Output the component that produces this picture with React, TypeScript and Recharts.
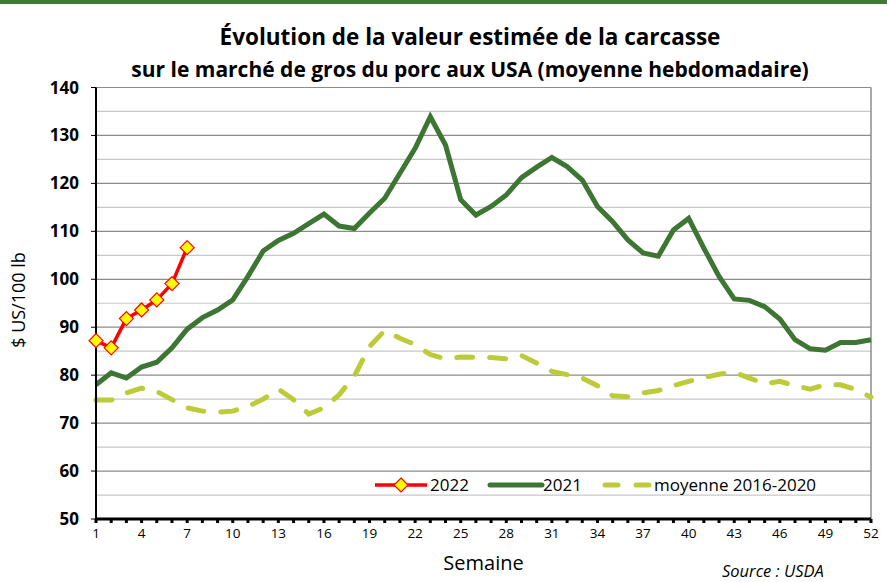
import { LineChart, Line, XAxis, YAxis, CartesianGrid, ReferenceLine } from 'recharts'

const weeks = Array.from({ length: 52 }, (_, i) => i + 1)

const values2022 = [87.2, 85.7, 91.8, 93.6, 95.7, 99.1, 106.6]

const values2021 = [
  78.0, 80.5, 79.4, 81.7, 82.7, 85.7, 89.6, 92.0, 93.6, 95.7,
  100.6, 105.9, 108.1, 109.6, 111.6, 113.6, 111.1, 110.6, 113.8, 116.9,
  122.1, 127.3, 133.9, 128.0, 116.6, 113.4, 115.2, 117.6, 121.2, 123.4,
  125.4, 123.5, 120.7, 115.2, 112.0, 108.2, 105.5, 104.8, 110.3, 112.7,
  106.5, 100.6, 95.9, 95.6, 94.3, 91.7, 87.4, 85.5, 85.2, 86.8,
  86.8, 87.4,
]

const valuesAvg = [
  74.8, 74.8, 76.3, 77.3, 76.6, 74.9, 73.2, 72.5, 72.3, 72.5,
  73.5, 75.0, 77.1, 74.9, 71.9, 73.2, 75.9, 79.8, 86.0, 89.3,
  87.7, 86.4, 84.3, 83.4, 83.8, 83.7, 83.7, 83.4, 84.1, 82.5,
  80.8, 80.1, 79.4, 77.8, 75.7, 75.5, 76.3, 76.8, 77.8, 78.7,
  79.5, 80.2, 80.6, 79.4, 78.2, 78.7, 77.8, 77.1, 78.0, 78.0,
  77.0, 75.4,
]

const xTicks = weeks
const yMajorTicks = [50, 60, 70, 80, 90, 100, 110, 120, 130, 140]
const yMinorTicks = [55, 65, 75, 85, 95, 105, 115, 125, 135]

const data = weeks.map((w, i) => ({
  week: w,
  y2022: i < values2022.length ? values2022[i] : null,
  y2021: values2021[i],
  avg: valuesAvg[i],
}))

const FONT = '"Open Sans", "Noto Sans", sans-serif'
const RED = '#ff0000'
const DARK_GREEN = '#3d7533'
const LIGHT_GREEN = '#bccb38'

const Diamond = (props: any) => {
  const { cx, cy } = props
  if (cx == null || cy == null) return null
  const s = 7
  return (
    <polygon
      points={`${cx},${cy - s} ${cx + s},${cy} ${cx},${cy + s} ${cx - s},${cy}`}
      fill="#ffff00"
      stroke={RED}
      strokeWidth={1.2}
    />
  )
}

const WeekTick = (props: any) => {
  const { x, y, payload } = props
  if ((payload.value - 1) % 3 !== 0) return null
  return (
    <text x={x} y={y + 13} textAnchor="middle" fontSize={13.5} fontFamily={FONT} fill="#000">
      {payload.value}
    </text>
  )
}

// legend drawn as an overlay inside the plot, like the original
const LegendBox = () => (
  <svg width={470} height={24} style={{ display: 'block' }}>
    <line x1={3} y1={12} x2={55} y2={12} stroke={RED} strokeWidth={3.5} />
    <polygon points="29,5 36,12 29,19 22,12" fill="#ffff00" stroke={RED} strokeWidth={1.2} />
    <text x={58} y={18} fontSize={17} fontFamily={FONT} fill="#000">2022</text>
    <line x1={118} y1={12} x2={170} y2={12} stroke={DARK_GREEN} strokeWidth={5} strokeLinecap="round" />
    <text x={171} y={18} fontSize={17} fontFamily={FONT} fill="#000">2021</text>
    <line x1={233} y1={12} x2={246} y2={12} stroke={LIGHT_GREEN} strokeWidth={5} strokeLinecap="round" />
    <line x1={264} y1={12} x2={277} y2={12} stroke={LIGHT_GREEN} strokeWidth={5} strokeLinecap="round" />
    <text x={282} y={18} fontSize={17} fontFamily={FONT} fill="#000">moyenne 2016-2020</text>
  </svg>
)

export default function App() {
  return (
    <div style={{ position: 'relative', width: 887, height: 582, background: '#fff', fontFamily: FONT }}>
      <style>{`body { margin: 0; }`}</style>
      <div style={{ position: 'absolute', left: 0, top: 0, width: 887, height: 4, background: '#3f7a34' }} />
      <div
        style={{
          position: 'absolute', left: 0, top: 21, width: 940, textAlign: 'center',
          fontWeight: 'bold', fontSize: 22.5, lineHeight: '32px', color: '#000',
        }}
      >
        Évolution de la valeur estimée de la carcasse
      </div>
      <div
        style={{
          position: 'absolute', left: 0, top: 54, width: 940, textAlign: 'center',
          fontWeight: 'bold', fontSize: 21, lineHeight: '30px', color: '#000',
        }}
      >
        sur le marché de gros du porc aux USA (moyenne hebdomadaire)
      </div>
      <div
        style={{
          position: 'absolute', left: 18, top: 300, transform: 'translate(-50%, -50%) rotate(-90deg)',
          whiteSpace: 'nowrap', fontSize: 18, color: '#000',
        }}
      >
        $ US/100 lb
      </div>
      <div
        style={{
          position: 'absolute', left: 722, top: 559, fontStyle: 'italic', fontSize: 16.5, color: '#000',
        }}
      >
        Source : USDA
      </div>
      <div style={{ position: 'absolute', left: 0, top: 0 }}>
        <LineChart
          width={887}
          height={582}
          data={data}
          margin={{ top: 87.5, right: 16, left: 26, bottom: 33 }}
        >
          <CartesianGrid horizontal vertical={false} horizontalValues={yMinorTicks} stroke="#c8c8c8" strokeWidth={1.2} />
          <CartesianGrid horizontal vertical={false} horizontalValues={yMajorTicks} stroke="#8c8c8c" strokeWidth={1.2} />
          <ReferenceLine x={52} stroke="#8c8c8c" strokeWidth={1.5} />
          <XAxis
            dataKey="week"
            type="number"
            domain={[1, 52]}
            ticks={xTicks}
            interval={0}
            height={30}
            axisLine={{ stroke: '#000', strokeWidth: 3 }}
            tickLine={{ stroke: '#000', strokeWidth: 3 }}
            tickSize={4}
            tick={<WeekTick />}
            label={{ value: 'Semaine', position: 'insideBottom', offset: -21, fontSize: 20, fontFamily: FONT, fill: '#000' }}
          />
          <YAxis
            type="number"
            domain={[50, 140]}
            ticks={yMajorTicks}
            interval={0}
            width={70}
            axisLine={{ stroke: '#000', strokeWidth: 2 }}
            tickLine={{ stroke: '#000', strokeWidth: 1 }}
            tickSize={5}
            tick={{ fill: '#000', fontSize: 17, fontWeight: 'bold', fontFamily: FONT }}
            tickMargin={12}
          />
          <Line
            dataKey="avg"
            stroke={LIGHT_GREEN}
            strokeWidth={5}
            strokeDasharray="16 17"
            strokeLinecap="round"
            dot={false}
            isAnimationActive={false}
          />
          <Line
            dataKey="y2021"
            stroke={DARK_GREEN}
            strokeWidth={5}
            dot={false}
            isAnimationActive={false}
          />
          <Line
            dataKey="y2022"
            stroke={RED}
            strokeWidth={3.5}
            dot={<Diamond />}
            connectNulls={false}
            isAnimationActive={false}
          />
        </LineChart>
      </div>
      <div style={{ position: 'absolute', left: 372, top: 473 }}>
        <LegendBox />
      </div>
    </div>
  )
}
